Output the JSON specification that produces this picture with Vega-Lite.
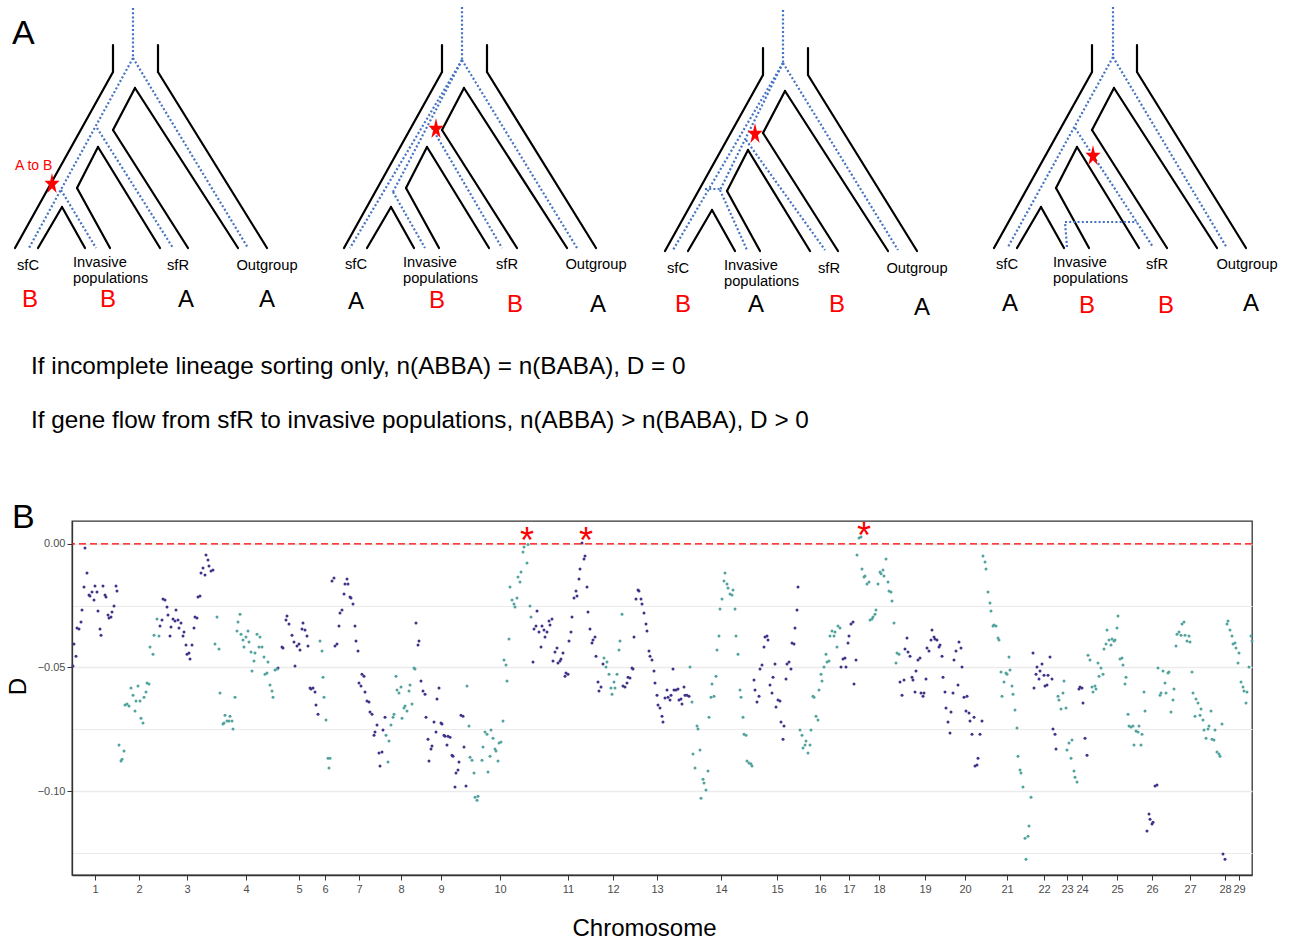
{
"$schema": "https://vega.github.io/schema/vega-lite/v6.json",
"padding": 0,
"background": "white",
"spacing": 0,
"bounds": "flush",
"config": {"font": "Liberation Sans", "view": {"stroke": null}, "text": {"font": "Liberation Sans"}},
"resolve": {"scale": {"x": "independent", "y": "independent", "color": "independent"}},
"vconcat": [
{
"width": 1219, "height": 521,
"layer": [
{"data": {"values": [{}]}, "mark": {"type": "rect", "fill": "white"},
 "encoding": {"x": {"datum": 0, "type": "quantitative", "scale": {"domain": [72, 1291], "nice": false, "zero": false}, "axis": null}, "x2": {"datum": 1291},
  "y": {"datum": 0, "type": "quantitative", "scale": {"domain": [0, 521], "nice": false, "zero": false, "reverse": true}, "axis": null}, "y2": {"datum": 521}}},
{"data": {"values": [
{"x1":113,"y1":45,"x2":113,"y2":72},{"x1":158,"y1":45,"x2":158,"y2":72},{"x1":113,"y1":72,"x2":15,"y2":248},{"x1":158,"y1":72,"x2":267,"y2":248},{"x1":135,"y1":88,"x2":113,"y2":130},{"x1":135,"y1":88,"x2":238,"y2":248},{"x1":113,"y1":130,"x2":188,"y2":248},{"x1":98,"y1":147,"x2":77,"y2":188},{"x1":98,"y1":147,"x2":160,"y2":248},{"x1":77,"y1":188,"x2":110,"y2":248},{"x1":62,"y1":207,"x2":38,"y2":248},{"x1":62,"y1":207,"x2":85,"y2":248},
{"x1":442,"y1":45,"x2":442,"y2":72},{"x1":487,"y1":45,"x2":487,"y2":72},{"x1":442,"y1":72,"x2":344,"y2":248},{"x1":487,"y1":72,"x2":596,"y2":248},{"x1":464,"y1":88,"x2":442,"y2":130},{"x1":464,"y1":88,"x2":567,"y2":248},{"x1":442,"y1":130,"x2":517,"y2":248},{"x1":427,"y1":147,"x2":406,"y2":188},{"x1":427,"y1":147,"x2":489,"y2":248},{"x1":406,"y1":188,"x2":439,"y2":248},{"x1":391,"y1":207,"x2":367,"y2":248},{"x1":391,"y1":207,"x2":414,"y2":248},
{"x1":763,"y1":48,"x2":763,"y2":75},{"x1":808,"y1":48,"x2":808,"y2":75},{"x1":763,"y1":75,"x2":665,"y2":251},{"x1":808,"y1":75,"x2":917,"y2":251},{"x1":785,"y1":91,"x2":763,"y2":133},{"x1":785,"y1":91,"x2":888,"y2":251},{"x1":763,"y1":133,"x2":838,"y2":251},{"x1":748,"y1":150,"x2":727,"y2":191},{"x1":748,"y1":150,"x2":810,"y2":251},{"x1":727,"y1":191,"x2":760,"y2":251},{"x1":712,"y1":210,"x2":688,"y2":251},{"x1":712,"y1":210,"x2":735,"y2":251},
{"x1":1092,"y1":45,"x2":1092,"y2":72},{"x1":1137,"y1":45,"x2":1137,"y2":72},{"x1":1092,"y1":72,"x2":994,"y2":248},{"x1":1137,"y1":72,"x2":1246,"y2":248},{"x1":1114,"y1":88,"x2":1092,"y2":130},{"x1":1114,"y1":88,"x2":1217,"y2":248},{"x1":1092,"y1":130,"x2":1167,"y2":248},{"x1":1077,"y1":147,"x2":1056,"y2":188},{"x1":1077,"y1":147,"x2":1139,"y2":248},{"x1":1056,"y1":188,"x2":1089,"y2":248},{"x1":1041,"y1":207,"x2":1017,"y2":248},{"x1":1041,"y1":207,"x2":1064,"y2":248}
]},
 "mark": {"type": "rule", "color": "black", "strokeWidth": 2.2, "strokeCap": "round"},
 "encoding": {"x": {"field": "x1", "type": "quantitative", "scale": {"domain": [72, 1291], "nice": false, "zero": false}, "axis": null}, "y": {"field": "y1", "type": "quantitative", "scale": {"domain": [0, 521], "nice": false, "zero": false, "reverse": true}, "axis": null}, "x2": {"field": "x2"}, "y2": {"field": "y2"}}},
{"data": {"values": [
{"x1":133,"y1":8,"x2":133,"y2":58},{"x1":133,"y1":58,"x2":29,"y2":248},{"x1":133,"y1":58,"x2":248,"y2":248},{"x1":97,"y1":128,"x2":173,"y2":248},{"x1":61,"y1":190,"x2":96,"y2":248},
{"x1":462,"y1":7,"x2":462,"y2":60},{"x1":462,"y1":60,"x2":350,"y2":248},{"x1":462,"y1":60,"x2":577,"y2":248},{"x1":462,"y1":60,"x2":393,"y2":192},{"x1":393,"y1":192,"x2":425,"y2":248},{"x1":432,"y1":128,"x2":502,"y2":248},
{"x1":783,"y1":10,"x2":783,"y2":63},{"x1":783,"y1":63,"x2":673,"y2":250},{"x1":783,"y1":63,"x2":898,"y2":250},{"x1":783,"y1":63,"x2":720,"y2":190},{"x1":720,"y1":190,"x2":747,"y2":250},{"x1":705,"y1":189,"x2":720,"y2":189},{"x1":746,"y1":140,"x2":825,"y2":250},
{"x1":1113,"y1":7,"x2":1113,"y2":57},{"x1":1113,"y1":57,"x2":1008,"y2":247},{"x1":1113,"y1":57,"x2":1227,"y2":248},{"x1":1075,"y1":128,"x2":1153,"y2":247},{"x1":1067,"y1":247,"x2":1065,"y2":222},{"x1":1065,"y1":222,"x2":1137,"y2":222}
]},
 "mark": {"type": "rule", "color": "#4472c4", "strokeWidth": 2.2, "strokeDash": [2, 2.2], "strokeCap": "butt"},
 "encoding": {"x": {"field": "x1", "type": "quantitative", "scale": {"domain": [72, 1291], "nice": false, "zero": false}, "axis": null}, "y": {"field": "y1", "type": "quantitative", "scale": {"domain": [0, 521], "nice": false, "zero": false, "reverse": true}, "axis": null}, "x2": {"field": "x2"}, "y2": {"field": "y2"}}},
{"data": {"values": [{"x":52,"y":183},{"x":436,"y":128},{"x":755,"y":133},{"x":1093,"y":155}]},
 "mark": {"type": "point", "shape": "M0,-1.27L0.2245,-0.30L0.9511,-0.30L0.3633,0.30L0.5878,1.26L0,0.67L-0.5878,1.26L-0.3633,0.30L-0.9511,-0.30L-0.2245,-0.30Z", "filled": true, "color": "#ff0000", "size": 250, "opacity": 1},
 "encoding": {"x": {"field": "x", "type": "quantitative", "scale": {"domain": [72, 1291], "nice": false, "zero": false}, "axis": null}, "y": {"field": "y", "type": "quantitative", "scale": {"domain": [0, 521], "nice": false, "zero": false, "reverse": true}, "axis": null}}},
{"data": {"values": [{"x":28,"y":270,"t":"sfC"},{"x":178,"y":270,"t":"sfR"},{"x":267,"y":270,"t":"Outgroup"},{"x":356,"y":269,"t":"sfC"},{"x":507,"y":269,"t":"sfR"},{"x":596,"y":269,"t":"Outgroup"},{"x":678,"y":273,"t":"sfC"},{"x":829,"y":273,"t":"sfR"},{"x":917,"y":273,"t":"Outgroup"},{"x":1007,"y":269,"t":"sfC"},{"x":1157,"y":269,"t":"sfR"},{"x":1247,"y":269,"t":"Outgroup"}]},
 "mark": {"type": "text", "align": "center", "baseline": "alphabetic", "fontSize": 14.7, "color": "black"},
 "encoding": {"x": {"field": "x", "type": "quantitative", "scale": {"domain": [72, 1291], "nice": false, "zero": false}, "axis": null}, "y": {"field": "y", "type": "quantitative", "scale": {"domain": [0, 521], "nice": false, "zero": false, "reverse": true}, "axis": null}, "text": {"field": "t"}}},
{"data": {"values": [{"x":73,"y":267,"t":"Invasive"},{"x":73,"y":283,"t":"populations"},{"x":403,"y":267,"t":"Invasive"},{"x":403,"y":283,"t":"populations"},{"x":724,"y":270,"t":"Invasive"},{"x":724,"y":286,"t":"populations"},{"x":1053,"y":267,"t":"Invasive"},{"x":1053,"y":283,"t":"populations"}]},
 "mark": {"type": "text", "align": "left", "baseline": "alphabetic", "fontSize": 14.7, "color": "black"},
 "encoding": {"x": {"field": "x", "type": "quantitative", "scale": {"domain": [72, 1291], "nice": false, "zero": false}, "axis": null}, "y": {"field": "y", "type": "quantitative", "scale": {"domain": [0, 521], "nice": false, "zero": false, "reverse": true}, "axis": null}, "text": {"field": "t"}}},
{"data": {"values": [{"x":186,"y":307,"t":"A"},{"x":267,"y":307,"t":"A"},{"x":356,"y":309,"t":"A"},{"x":598,"y":312,"t":"A"},{"x":756,"y":312,"t":"A"},{"x":922,"y":315,"t":"A"},{"x":1010,"y":311,"t":"A"},{"x":1251,"y":311,"t":"A"}]},
 "mark": {"type": "text", "align": "center", "baseline": "alphabetic", "fontSize": 24, "color": "black"},
 "encoding": {"x": {"field": "x", "type": "quantitative", "scale": {"domain": [72, 1291], "nice": false, "zero": false}, "axis": null}, "y": {"field": "y", "type": "quantitative", "scale": {"domain": [0, 521], "nice": false, "zero": false, "reverse": true}, "axis": null}, "text": {"field": "t"}}},
{"data": {"values": [{"x":30,"y":307,"t":"B"},{"x":108,"y":307,"t":"B"},{"x":437,"y":308,"t":"B"},{"x":515,"y":312,"t":"B"},{"x":683,"y":312,"t":"B"},{"x":837,"y":312,"t":"B"},{"x":1087,"y":313,"t":"B"},{"x":1166,"y":313,"t":"B"}]},
 "mark": {"type": "text", "align": "center", "baseline": "alphabetic", "fontSize": 24, "color": "#ff0000"},
 "encoding": {"x": {"field": "x", "type": "quantitative", "scale": {"domain": [72, 1291], "nice": false, "zero": false}, "axis": null}, "y": {"field": "y", "type": "quantitative", "scale": {"domain": [0, 521], "nice": false, "zero": false, "reverse": true}, "axis": null}, "text": {"field": "t"}}},
{"data": {"values": [{"x":15,"y":170,"t":"A to B"}]},
 "mark": {"type": "text", "align": "left", "baseline": "alphabetic", "fontSize": 14, "color": "#ff0000"},
 "encoding": {"x": {"field": "x", "type": "quantitative", "scale": {"domain": [72, 1291], "nice": false, "zero": false}, "axis": null}, "y": {"field": "y", "type": "quantitative", "scale": {"domain": [0, 521], "nice": false, "zero": false, "reverse": true}, "axis": null}, "text": {"field": "t"}}},
{"data": {"values": [{"x":31,"y":374,"t":"If incomplete lineage sorting only, n(ABBA) = n(BABA), D = 0"},{"x":31,"y":428,"t":"If gene flow from sfR to invasive populations, n(ABBA) > n(BABA), D > 0"}]},
 "mark": {"type": "text", "align": "left", "baseline": "alphabetic", "fontSize": 24.3, "color": "black"},
 "encoding": {"x": {"field": "x", "type": "quantitative", "scale": {"domain": [72, 1291], "nice": false, "zero": false}, "axis": null}, "y": {"field": "y", "type": "quantitative", "scale": {"domain": [0, 521], "nice": false, "zero": false, "reverse": true}, "axis": null}, "text": {"field": "t"}}},
{"data": {"values": [{"x":12,"y":44,"t":"A"},{"x":12,"y":528,"t":"B"}]},
 "mark": {"type": "text", "align": "left", "baseline": "alphabetic", "fontSize": 34, "color": "black"},
 "encoding": {"x": {"field": "x", "type": "quantitative", "scale": {"domain": [72, 1291], "nice": false, "zero": false}, "axis": null}, "y": {"field": "y", "type": "quantitative", "scale": {"domain": [0, 521], "nice": false, "zero": false, "reverse": true}, "axis": null}, "text": {"field": "t"}}}
]
},
{
"width": 1180, "height": 354,
"view": {"stroke": "#333333", "strokeWidth": 1.3},
"layer": [
{"data": {"values": [
{"pos":2,"D":-0.0405,"g":"p"},{"pos":4,"D":-0.0454,"g":"p"},{"pos":1,"D":-0.0494,"g":"p"},{"pos":5,"D":-0.0340,"g":"p"},{"pos":7,"D":-0.0344,"g":"p"},{"pos":9,"D":-0.0316,"g":"p"},{"pos":10,"D":-0.0267,"g":"p"},{"pos":12,"D":-0.0174,"g":"p"},{"pos":13,"D":-0.0016,"g":"p"},{"pos":15,"D":-0.0117,"g":"p"},{"pos":17,"D":-0.0207,"g":"p"},{"pos":18,"D":-0.0211,"g":"p"},{"pos":20,"D":-0.0194,"g":"p"},{"pos":22,"D":-0.0227,"g":"p"},{"pos":23,"D":-0.0170,"g":"p"},{"pos":25,"D":-0.0194,"g":"p"},{"pos":26,"D":-0.0271,"g":"p"},{"pos":28,"D":-0.0344,"g":"p"},{"pos":29,"D":-0.0369,"g":"p"},{"pos":31,"D":-0.0170,"g":"p"},{"pos":33,"D":-0.0207,"g":"p"},{"pos":34,"D":-0.0215,"g":"p"},{"pos":36,"D":-0.0288,"g":"p"},{"pos":37,"D":-0.0300,"g":"p"},{"pos":39,"D":-0.0296,"g":"p"},{"pos":40,"D":-0.0275,"g":"p"},{"pos":42,"D":-0.0251,"g":"p"},{"pos":44,"D":-0.0170,"g":"p"},{"pos":45,"D":-0.0190,"g":"p"},
{"pos":88,"D":-0.0332,"g":"p"},{"pos":90,"D":-0.0308,"g":"p"},{"pos":91,"D":-0.0223,"g":"p"},{"pos":93,"D":-0.0227,"g":"p"},{"pos":95,"D":-0.0255,"g":"p"},{"pos":96,"D":-0.0288,"g":"p"},{"pos":98,"D":-0.0373,"g":"p"},{"pos":99,"D":-0.0336,"g":"p"},{"pos":101,"D":-0.0304,"g":"p"},{"pos":103,"D":-0.0312,"g":"p"},{"pos":104,"D":-0.0267,"g":"p"},{"pos":106,"D":-0.0308,"g":"p"},{"pos":107,"D":-0.0340,"g":"p"},{"pos":109,"D":-0.0320,"g":"p"},{"pos":111,"D":-0.0373,"g":"p"},{"pos":112,"D":-0.0356,"g":"p"},{"pos":114,"D":-0.0409,"g":"p"},{"pos":115,"D":-0.0446,"g":"p"},{"pos":117,"D":-0.0441,"g":"p"},{"pos":118,"D":-0.0466,"g":"p"},{"pos":120,"D":-0.0409,"g":"p"},{"pos":122,"D":-0.0340,"g":"p"},{"pos":123,"D":-0.0296,"g":"p"},{"pos":125,"D":-0.0300,"g":"p"},{"pos":126,"D":-0.0215,"g":"p"},{"pos":128,"D":-0.0211,"g":"p"},{"pos":129,"D":-0.0117,"g":"p"},{"pos":131,"D":-0.0097,"g":"p"},{"pos":133,"D":-0.0126,"g":"p"},{"pos":134,"D":-0.0045,"g":"p"},{"pos":136,"D":-0.0065,"g":"p"},{"pos":137,"D":-0.0089,"g":"p"},{"pos":139,"D":-0.0109,"g":"p"},{"pos":141,"D":-0.0105,"g":"p"},
{"pos":206,"D":-0.0502,"g":"p"},{"pos":210,"D":-0.0417,"g":"p"},{"pos":211,"D":-0.0421,"g":"p"},{"pos":214,"D":-0.0308,"g":"p"},{"pos":215,"D":-0.0292,"g":"p"},{"pos":217,"D":-0.0324,"g":"p"},{"pos":220,"D":-0.0369,"g":"p"},{"pos":222,"D":-0.0397,"g":"p"},{"pos":223,"D":-0.0494,"g":"p"},{"pos":225,"D":-0.0413,"g":"p"},{"pos":227,"D":-0.0405,"g":"p"},{"pos":228,"D":-0.0429,"g":"p"},{"pos":230,"D":-0.0344,"g":"p"},{"pos":231,"D":-0.0320,"g":"p"},{"pos":233,"D":-0.0348,"g":"p"},{"pos":235,"D":-0.0373,"g":"p"},{"pos":236,"D":-0.0413,"g":"p"},{"pos":238,"D":-0.0583,"g":"p"},{"pos":239,"D":-0.0587,"g":"p"},{"pos":241,"D":-0.0583,"g":"p"},{"pos":243,"D":-0.0599,"g":"p"},{"pos":244,"D":-0.0652,"g":"p"},{"pos":246,"D":-0.0689,"g":"p"},
{"pos":260,"D":-0.0150,"g":"p"},{"pos":262,"D":-0.0138,"g":"p"},{"pos":263,"D":-0.0413,"g":"p"},{"pos":265,"D":-0.0405,"g":"p"},{"pos":267,"D":-0.0332,"g":"p"},{"pos":268,"D":-0.0279,"g":"p"},{"pos":270,"D":-0.0267,"g":"p"},{"pos":272,"D":-0.0203,"g":"p"},{"pos":273,"D":-0.0162,"g":"p"},{"pos":275,"D":-0.0142,"g":"p"},{"pos":276,"D":-0.0162,"g":"p"},{"pos":278,"D":-0.0215,"g":"p"},{"pos":279,"D":-0.0219,"g":"p"},{"pos":281,"D":-0.0243,"g":"p"},{"pos":283,"D":-0.0332,"g":"p"},{"pos":284,"D":-0.0393,"g":"p"},{"pos":286,"D":-0.0433,"g":"p"},{"pos":287,"D":-0.0563,"g":"p"},{"pos":289,"D":-0.0575,"g":"p"},{"pos":290,"D":-0.0527,"g":"p"},{"pos":292,"D":-0.0535,"g":"p"},{"pos":293,"D":-0.0599,"g":"p"},{"pos":295,"D":-0.0636,"g":"p"},{"pos":297,"D":-0.0640,"g":"p"},{"pos":298,"D":-0.0680,"g":"p"},{"pos":300,"D":-0.0689,"g":"p"},{"pos":302,"D":-0.0774,"g":"p"},{"pos":303,"D":-0.0761,"g":"p"},{"pos":305,"D":-0.0733,"g":"p"},{"pos":307,"D":-0.0846,"g":"p"},{"pos":308,"D":-0.0899,"g":"p"},{"pos":310,"D":-0.0842,"g":"p"},{"pos":311,"D":-0.0753,"g":"p"},{"pos":313,"D":-0.0701,"g":"p"},
{"pos":344,"D":-0.0320,"g":"p"},{"pos":346,"D":-0.0409,"g":"p"},{"pos":347,"D":-0.0393,"g":"p"},{"pos":349,"D":-0.0555,"g":"p"},{"pos":351,"D":-0.0595,"g":"p"},{"pos":353,"D":-0.0608,"g":"p"},{"pos":354,"D":-0.0701,"g":"p"},{"pos":356,"D":-0.0790,"g":"p"},{"pos":357,"D":-0.0879,"g":"p"},{"pos":359,"D":-0.0830,"g":"p"},{"pos":360,"D":-0.0818,"g":"p"},{"pos":362,"D":-0.0721,"g":"p"},{"pos":364,"D":-0.0761,"g":"p"},{"pos":365,"D":-0.0628,"g":"p"},{"pos":367,"D":-0.0583,"g":"p"},{"pos":369,"D":-0.0725,"g":"p"},{"pos":370,"D":-0.0729,"g":"p"},{"pos":372,"D":-0.0774,"g":"p"},{"pos":373,"D":-0.0778,"g":"p"},{"pos":375,"D":-0.0814,"g":"p"},{"pos":376,"D":-0.0778,"g":"p"},{"pos":378,"D":-0.0782,"g":"p"},{"pos":380,"D":-0.0855,"g":"p"},{"pos":381,"D":-0.0859,"g":"p"},{"pos":383,"D":-0.0984,"g":"p"},{"pos":384,"D":-0.0927,"g":"p"},{"pos":386,"D":-0.0915,"g":"p"},{"pos":387,"D":-0.0883,"g":"p"},{"pos":389,"D":-0.0693,"g":"p"},{"pos":391,"D":-0.0697,"g":"p"},{"pos":392,"D":-0.0822,"g":"p"},{"pos":394,"D":-0.0980,"g":"p"},
{"pos":461,"D":-0.0478,"g":"p"},{"pos":462,"D":-0.0344,"g":"p"},{"pos":464,"D":-0.0332,"g":"p"},{"pos":465,"D":-0.0271,"g":"p"},{"pos":467,"D":-0.0356,"g":"p"},{"pos":469,"D":-0.0417,"g":"p"},{"pos":470,"D":-0.0332,"g":"p"},{"pos":472,"D":-0.0348,"g":"p"},{"pos":473,"D":-0.0377,"g":"p"},{"pos":475,"D":-0.0356,"g":"p"},{"pos":477,"D":-0.0312,"g":"p"},{"pos":478,"D":-0.0328,"g":"p"},{"pos":480,"D":-0.0304,"g":"p"},{"pos":481,"D":-0.0474,"g":"p"},{"pos":483,"D":-0.0437,"g":"p"},{"pos":485,"D":-0.0421,"g":"p"},{"pos":486,"D":-0.0482,"g":"p"},{"pos":488,"D":-0.0474,"g":"p"},{"pos":489,"D":-0.0466,"g":"p"},{"pos":491,"D":-0.0441,"g":"p"},{"pos":493,"D":-0.0535,"g":"p"},{"pos":494,"D":-0.0522,"g":"p"},{"pos":496,"D":-0.0527,"g":"p"},{"pos":497,"D":-0.0393,"g":"p"},{"pos":499,"D":-0.0356,"g":"p"},{"pos":500,"D":-0.0296,"g":"p"},{"pos":502,"D":-0.0219,"g":"p"},{"pos":504,"D":-0.0190,"g":"p"},{"pos":505,"D":-0.0211,"g":"p"},{"pos":507,"D":-0.0142,"g":"p"},{"pos":508,"D":-0.0101,"g":"p"},{"pos":510,"D":0.0004,"g":"p"},{"pos":512,"D":-0.0061,"g":"p"},{"pos":513,"D":-0.0049,"g":"p"},{"pos":515,"D":-0.0174,"g":"p"},{"pos":516,"D":-0.0275,"g":"p"},{"pos":518,"D":-0.0344,"g":"p"},{"pos":520,"D":-0.0401,"g":"p"},{"pos":521,"D":-0.0389,"g":"p"},{"pos":523,"D":-0.0377,"g":"p"},{"pos":524,"D":-0.0454,"g":"p"},{"pos":526,"D":-0.0559,"g":"p"},{"pos":527,"D":-0.0595,"g":"p"},{"pos":529,"D":-0.0579,"g":"p"},{"pos":531,"D":-0.0486,"g":"p"},
{"pos":551,"D":-0.0575,"g":"p"},{"pos":553,"D":-0.0579,"g":"p"},{"pos":555,"D":-0.0563,"g":"p"},{"pos":556,"D":-0.0539,"g":"p"},{"pos":558,"D":-0.0543,"g":"p"},{"pos":560,"D":-0.0502,"g":"p"},{"pos":561,"D":-0.0506,"g":"p"},{"pos":562,"D":-0.0377,"g":"p"},{"pos":564,"D":-0.0223,"g":"p"},{"pos":566,"D":-0.0186,"g":"p"},{"pos":567,"D":-0.0190,"g":"p"},{"pos":569,"D":-0.0223,"g":"p"},{"pos":570,"D":-0.0243,"g":"p"},{"pos":572,"D":-0.0279,"g":"p"},{"pos":574,"D":-0.0324,"g":"p"},{"pos":575,"D":-0.0352,"g":"p"},{"pos":577,"D":-0.0433,"g":"p"},{"pos":578,"D":-0.0454,"g":"p"},{"pos":580,"D":-0.0470,"g":"p"},{"pos":582,"D":-0.0514,"g":"p"},{"pos":583,"D":-0.0563,"g":"p"},{"pos":585,"D":-0.0612,"g":"p"},{"pos":586,"D":-0.0652,"g":"p"},{"pos":588,"D":-0.0664,"g":"p"},{"pos":590,"D":-0.0697,"g":"p"},{"pos":591,"D":-0.0721,"g":"p"},{"pos":593,"D":-0.0624,"g":"p"},{"pos":595,"D":-0.0591,"g":"p"},{"pos":596,"D":-0.0620,"g":"p"},{"pos":598,"D":-0.0632,"g":"p"},{"pos":599,"D":-0.0612,"g":"p"},{"pos":601,"D":-0.0506,"g":"p"},{"pos":602,"D":-0.0591,"g":"p"},{"pos":604,"D":-0.0591,"g":"p"},{"pos":606,"D":-0.0587,"g":"p"},{"pos":607,"D":-0.0632,"g":"p"},{"pos":609,"D":-0.0628,"g":"p"},{"pos":610,"D":-0.0648,"g":"p"},{"pos":612,"D":-0.0579,"g":"p"},{"pos":613,"D":-0.0612,"g":"p"},{"pos":615,"D":-0.0612,"g":"p"},{"pos":617,"D":-0.0616,"g":"p"},
{"pos":682,"D":-0.0551,"g":"p"},{"pos":683,"D":-0.0591,"g":"p"},{"pos":685,"D":-0.0640,"g":"p"},{"pos":687,"D":-0.0616,"g":"p"},{"pos":688,"D":-0.0506,"g":"p"},{"pos":690,"D":-0.0490,"g":"p"},{"pos":692,"D":-0.0417,"g":"p"},{"pos":693,"D":-0.0377,"g":"p"},{"pos":695,"D":-0.0373,"g":"p"},{"pos":696,"D":-0.0389,"g":"p"},{"pos":698,"D":-0.0571,"g":"p"},{"pos":700,"D":-0.0603,"g":"p"},{"pos":701,"D":-0.0539,"g":"p"},{"pos":703,"D":-0.0486,"g":"p"},{"pos":704,"D":-0.0660,"g":"p"},{"pos":706,"D":-0.0632,"g":"p"},{"pos":708,"D":-0.0636,"g":"p"},{"pos":709,"D":-0.0721,"g":"p"},{"pos":711,"D":-0.0790,"g":"p"},{"pos":712,"D":-0.0737,"g":"p"},{"pos":714,"D":-0.0547,"g":"p"},{"pos":715,"D":-0.0486,"g":"p"},{"pos":717,"D":-0.0478,"g":"p"},{"pos":719,"D":-0.0506,"g":"p"},{"pos":720,"D":-0.0401,"g":"p"},{"pos":722,"D":-0.0405,"g":"p"},{"pos":723,"D":-0.0340,"g":"p"},{"pos":725,"D":-0.0267,"g":"p"},{"pos":726,"D":-0.0174,"g":"p"},
{"pos":769,"D":-0.0498,"g":"p"},{"pos":771,"D":-0.0466,"g":"p"},{"pos":773,"D":-0.0462,"g":"p"},{"pos":774,"D":-0.0498,"g":"p"},{"pos":776,"D":-0.0401,"g":"p"},{"pos":777,"D":-0.0373,"g":"p"},{"pos":779,"D":-0.0324,"g":"p"},{"pos":781,"D":-0.0316,"g":"p"},{"pos":782,"D":-0.0567,"g":"p"},{"pos":784,"D":-0.0470,"g":"p"},
{"pos":828,"D":-0.0559,"g":"p"},{"pos":830,"D":-0.0612,"g":"p"},{"pos":832,"D":-0.0551,"g":"p"},{"pos":833,"D":-0.0425,"g":"p"},{"pos":835,"D":-0.0381,"g":"p"},{"pos":836,"D":-0.0437,"g":"p"},{"pos":838,"D":-0.0454,"g":"p"},{"pos":840,"D":-0.0539,"g":"p"},{"pos":841,"D":-0.0551,"g":"p"},{"pos":843,"D":-0.0599,"g":"p"},{"pos":844,"D":-0.0514,"g":"p"},{"pos":846,"D":-0.0470,"g":"p"},{"pos":848,"D":-0.0462,"g":"p"},{"pos":849,"D":-0.0603,"g":"p"},{"pos":851,"D":-0.0616,"g":"p"},{"pos":852,"D":-0.0603,"g":"p"},{"pos":854,"D":-0.0547,"g":"p"},{"pos":855,"D":-0.0421,"g":"p"},{"pos":857,"D":-0.0433,"g":"p"},{"pos":859,"D":-0.0389,"g":"p"},{"pos":860,"D":-0.0348,"g":"p"},{"pos":862,"D":-0.0377,"g":"p"},{"pos":863,"D":-0.0385,"g":"p"},{"pos":865,"D":-0.0389,"g":"p"},{"pos":867,"D":-0.0417,"g":"p"},{"pos":868,"D":-0.0409,"g":"p"},{"pos":870,"D":-0.0454,"g":"p"},{"pos":871,"D":-0.0539,"g":"p"},{"pos":873,"D":-0.0599,"g":"p"},{"pos":874,"D":-0.0664,"g":"p"},{"pos":876,"D":-0.0721,"g":"p"},{"pos":878,"D":-0.0765,"g":"p"},{"pos":879,"D":-0.0680,"g":"p"},{"pos":881,"D":-0.0603,"g":"p"},{"pos":882,"D":-0.0470,"g":"p"},{"pos":884,"D":-0.0433,"g":"p"},{"pos":886,"D":-0.0571,"g":"p"},{"pos":887,"D":-0.0397,"g":"p"},{"pos":889,"D":-0.0421,"g":"p"},{"pos":890,"D":-0.0498,"g":"p"},{"pos":892,"D":-0.0620,"g":"p"},{"pos":894,"D":-0.0676,"g":"p"},{"pos":895,"D":-0.0616,"g":"p"},{"pos":897,"D":-0.0684,"g":"p"},{"pos":898,"D":-0.0717,"g":"p"},{"pos":900,"D":-0.0770,"g":"p"},{"pos":902,"D":-0.0701,"g":"p"},{"pos":903,"D":-0.0899,"g":"p"},{"pos":905,"D":-0.0895,"g":"p"},{"pos":906,"D":-0.0867,"g":"p"},{"pos":908,"D":-0.0770,"g":"p"},{"pos":910,"D":-0.0717,"g":"p"},
{"pos":961,"D":-0.0441,"g":"p"},{"pos":962,"D":-0.0583,"g":"p"},{"pos":964,"D":-0.0527,"g":"p"},{"pos":965,"D":-0.0498,"g":"p"},{"pos":967,"D":-0.0547,"g":"p"},{"pos":968,"D":-0.0514,"g":"p"},{"pos":970,"D":-0.0486,"g":"p"},{"pos":972,"D":-0.0531,"g":"p"},{"pos":973,"D":-0.0575,"g":"p"},{"pos":975,"D":-0.0571,"g":"p"},{"pos":976,"D":-0.0531,"g":"p"},{"pos":978,"D":-0.0458,"g":"p"},{"pos":980,"D":-0.0547,"g":"p"},{"pos":981,"D":-0.0749,"g":"p"},{"pos":983,"D":-0.0770,"g":"p"},{"pos":984,"D":-0.0830,"g":"p"},
{"pos":1007,"D":-0.0587,"g":"p"},{"pos":1008,"D":-0.0579,"g":"p"},{"pos":1010,"D":-0.0583,"g":"p"},{"pos":1011,"D":-0.0644,"g":"p"},{"pos":1013,"D":-0.0786,"g":"p"},{"pos":1015,"D":-0.0855,"g":"p"},
{"pos":1075,"D":-0.1162,"g":"p"},{"pos":1077,"D":-0.1093,"g":"p"},{"pos":1078,"D":-0.1114,"g":"p"},{"pos":1080,"D":-0.1134,"g":"p"},{"pos":1081,"D":-0.1126,"g":"p"},{"pos":1083,"D":-0.0980,"g":"p"},{"pos":1085,"D":-0.0976,"g":"p"},
{"pos":1151,"D":-0.1255,"g":"p"},{"pos":1153,"D":-0.1276,"g":"p"},
{"pos":47,"D":-0.0814,"g":"t"},{"pos":49,"D":-0.0879,"g":"t"},{"pos":50,"D":-0.0871,"g":"t"},{"pos":52,"D":-0.0838,"g":"t"},{"pos":53,"D":-0.0652,"g":"t"},{"pos":55,"D":-0.0648,"g":"t"},{"pos":57,"D":-0.0656,"g":"t"},{"pos":59,"D":-0.0583,"g":"t"},{"pos":61,"D":-0.0612,"g":"t"},{"pos":63,"D":-0.0676,"g":"t"},{"pos":64,"D":-0.0636,"g":"t"},{"pos":66,"D":-0.0575,"g":"t"},{"pos":68,"D":-0.0636,"g":"t"},{"pos":69,"D":-0.0705,"g":"t"},{"pos":71,"D":-0.0725,"g":"t"},{"pos":72,"D":-0.0620,"g":"t"},{"pos":74,"D":-0.0599,"g":"t"},{"pos":75,"D":-0.0563,"g":"t"},{"pos":77,"D":-0.0567,"g":"t"},{"pos":78,"D":-0.0417,"g":"t"},{"pos":81,"D":-0.0446,"g":"t"},{"pos":82,"D":-0.0369,"g":"t"},{"pos":85,"D":-0.0304,"g":"t"},{"pos":87,"D":-0.0373,"g":"t"},
{"pos":143,"D":-0.0405,"g":"t"},{"pos":145,"D":-0.0296,"g":"t"},{"pos":147,"D":-0.0425,"g":"t"},{"pos":148,"D":-0.0603,"g":"t"},{"pos":151,"D":-0.0729,"g":"t"},{"pos":152,"D":-0.0725,"g":"t"},{"pos":153,"D":-0.0693,"g":"t"},{"pos":155,"D":-0.0717,"g":"t"},{"pos":157,"D":-0.0717,"g":"t"},{"pos":158,"D":-0.0697,"g":"t"},{"pos":160,"D":-0.0717,"g":"t"},{"pos":161,"D":-0.0749,"g":"t"},{"pos":163,"D":-0.0620,"g":"t"},{"pos":165,"D":-0.0352,"g":"t"},{"pos":166,"D":-0.0316,"g":"t"},{"pos":168,"D":-0.0284,"g":"t"},{"pos":169,"D":-0.0365,"g":"t"},{"pos":171,"D":-0.0389,"g":"t"},{"pos":172,"D":-0.0417,"g":"t"},{"pos":174,"D":-0.0377,"g":"t"},{"pos":176,"D":-0.0352,"g":"t"},{"pos":177,"D":-0.0397,"g":"t"},{"pos":179,"D":-0.0437,"g":"t"},{"pos":180,"D":-0.0514,"g":"t"},{"pos":182,"D":-0.0474,"g":"t"},{"pos":183,"D":-0.0441,"g":"t"},{"pos":185,"D":-0.0365,"g":"t"},{"pos":187,"D":-0.0417,"g":"t"},{"pos":188,"D":-0.0377,"g":"t"},{"pos":190,"D":-0.0417,"g":"t"},{"pos":192,"D":-0.0458,"g":"t"},{"pos":193,"D":-0.0527,"g":"t"},{"pos":195,"D":-0.0522,"g":"t"},{"pos":196,"D":-0.0478,"g":"t"},{"pos":198,"D":-0.0571,"g":"t"},{"pos":200,"D":-0.0595,"g":"t"},{"pos":201,"D":-0.0620,"g":"t"},{"pos":203,"D":-0.0510,"g":"t"},{"pos":205,"D":-0.0506,"g":"t"},
{"pos":248,"D":-0.0393,"g":"t"},{"pos":250,"D":-0.0433,"g":"t"},{"pos":251,"D":-0.0539,"g":"t"},{"pos":252,"D":-0.0620,"g":"t"},{"pos":254,"D":-0.0713,"g":"t"},{"pos":256,"D":-0.0867,"g":"t"},{"pos":258,"D":-0.0867,"g":"t"},{"pos":257,"D":-0.0907,"g":"t"},
{"pos":314,"D":-0.0774,"g":"t"},{"pos":316,"D":-0.0883,"g":"t"},{"pos":317,"D":-0.0798,"g":"t"},{"pos":319,"D":-0.0733,"g":"t"},{"pos":321,"D":-0.0701,"g":"t"},{"pos":322,"D":-0.0689,"g":"t"},{"pos":324,"D":-0.0535,"g":"t"},{"pos":325,"D":-0.0591,"g":"t"},{"pos":327,"D":-0.0603,"g":"t"},{"pos":329,"D":-0.0579,"g":"t"},{"pos":330,"D":-0.0705,"g":"t"},{"pos":332,"D":-0.0664,"g":"t"},{"pos":333,"D":-0.0656,"g":"t"},{"pos":335,"D":-0.0676,"g":"t"},{"pos":337,"D":-0.0595,"g":"t"},{"pos":338,"D":-0.0571,"g":"t"},{"pos":340,"D":-0.0648,"g":"t"},{"pos":342,"D":-0.0502,"g":"t"},{"pos":343,"D":-0.0506,"g":"t"},
{"pos":395,"D":-0.0575,"g":"t"},{"pos":397,"D":-0.0737,"g":"t"},{"pos":398,"D":-0.0863,"g":"t"},{"pos":400,"D":-0.0875,"g":"t"},{"pos":402,"D":-0.0927,"g":"t"},{"pos":403,"D":-0.1025,"g":"t"},{"pos":405,"D":-0.1037,"g":"t"},{"pos":406,"D":-0.1021,"g":"t"},{"pos":410,"D":-0.0875,"g":"t"},{"pos":411,"D":-0.0822,"g":"t"},{"pos":413,"D":-0.0761,"g":"t"},{"pos":415,"D":-0.0770,"g":"t"},{"pos":416,"D":-0.0923,"g":"t"},{"pos":418,"D":-0.0859,"g":"t"},{"pos":419,"D":-0.0753,"g":"t"},{"pos":421,"D":-0.0786,"g":"t"},{"pos":423,"D":-0.0830,"g":"t"},{"pos":424,"D":-0.0838,"g":"t"},{"pos":426,"D":-0.0879,"g":"t"},{"pos":427,"D":-0.0806,"g":"t"},{"pos":429,"D":-0.0802,"g":"t"},{"pos":431,"D":-0.0717,"g":"t"},{"pos":432,"D":-0.0470,"g":"t"},{"pos":434,"D":-0.0490,"g":"t"},{"pos":435,"D":-0.0555,"g":"t"},{"pos":437,"D":-0.0385,"g":"t"},{"pos":438,"D":-0.0174,"g":"t"},{"pos":440,"D":-0.0227,"g":"t"},{"pos":442,"D":-0.0243,"g":"t"},{"pos":443,"D":-0.0255,"g":"t"},{"pos":445,"D":-0.0219,"g":"t"},{"pos":446,"D":-0.0134,"g":"t"},{"pos":448,"D":-0.0154,"g":"t"},{"pos":449,"D":-0.0113,"g":"t"},{"pos":451,"D":-0.0032,"g":"t"},{"pos":452,"D":-0.0012,"g":"t"},{"pos":455,"D":-0.0077,"g":"t"},{"pos":456,"D":-0.0002,"g":"t"},{"pos":458,"D":-0.0251,"g":"t"},{"pos":459,"D":-0.0296,"g":"t"},
{"pos":532,"D":-0.0462,"g":"t"},{"pos":534,"D":-0.0498,"g":"t"},{"pos":535,"D":-0.0478,"g":"t"},{"pos":537,"D":-0.0527,"g":"t"},{"pos":539,"D":-0.0583,"g":"t"},{"pos":540,"D":-0.0608,"g":"t"},{"pos":542,"D":-0.0559,"g":"t"},{"pos":543,"D":-0.0583,"g":"t"},{"pos":545,"D":-0.0527,"g":"t"},{"pos":547,"D":-0.0429,"g":"t"},{"pos":548,"D":-0.0393,"g":"t"},{"pos":550,"D":-0.0284,"g":"t"},
{"pos":618,"D":-0.0498,"g":"t"},{"pos":620,"D":-0.0640,"g":"t"},{"pos":621,"D":-0.0850,"g":"t"},{"pos":623,"D":-0.0907,"g":"t"},{"pos":625,"D":-0.0737,"g":"t"},{"pos":626,"D":-0.0749,"g":"t"},{"pos":628,"D":-0.0834,"g":"t"},{"pos":629,"D":-0.1029,"g":"t"},{"pos":631,"D":-0.0952,"g":"t"},{"pos":632,"D":-0.0968,"g":"t"},{"pos":634,"D":-0.0996,"g":"t"},{"pos":636,"D":-0.0919,"g":"t"},{"pos":637,"D":-0.0701,"g":"t"},{"pos":639,"D":-0.0620,"g":"t"},{"pos":640,"D":-0.0567,"g":"t"},{"pos":642,"D":-0.0616,"g":"t"},{"pos":644,"D":-0.0535,"g":"t"},{"pos":645,"D":-0.0429,"g":"t"},{"pos":647,"D":-0.0373,"g":"t"},{"pos":648,"D":-0.0263,"g":"t"},{"pos":650,"D":-0.0223,"g":"t"},{"pos":652,"D":-0.0150,"g":"t"},{"pos":653,"D":-0.0117,"g":"t"},{"pos":655,"D":-0.0162,"g":"t"},{"pos":656,"D":-0.0178,"g":"t"},{"pos":658,"D":-0.0203,"g":"t"},{"pos":660,"D":-0.0207,"g":"t"},{"pos":661,"D":-0.0186,"g":"t"},{"pos":663,"D":-0.0263,"g":"t"},{"pos":664,"D":-0.0373,"g":"t"},{"pos":666,"D":-0.0446,"g":"t"},{"pos":668,"D":-0.0591,"g":"t"},{"pos":669,"D":-0.0620,"g":"t"},{"pos":671,"D":-0.0701,"g":"t"},{"pos":672,"D":-0.0770,"g":"t"},{"pos":674,"D":-0.0774,"g":"t"},{"pos":675,"D":-0.0879,"g":"t"},{"pos":677,"D":-0.0887,"g":"t"},{"pos":679,"D":-0.0891,"g":"t"},{"pos":680,"D":-0.0899,"g":"t"},
{"pos":728,"D":-0.0753,"g":"t"},{"pos":730,"D":-0.0774,"g":"t"},{"pos":731,"D":-0.0826,"g":"t"},{"pos":733,"D":-0.0814,"g":"t"},{"pos":734,"D":-0.0798,"g":"t"},{"pos":736,"D":-0.0846,"g":"t"},{"pos":738,"D":-0.0814,"g":"t"},{"pos":739,"D":-0.0753,"g":"t"},{"pos":741,"D":-0.0616,"g":"t"},{"pos":742,"D":-0.0620,"g":"t"},{"pos":744,"D":-0.0697,"g":"t"},{"pos":746,"D":-0.0713,"g":"t"},{"pos":747,"D":-0.0591,"g":"t"},{"pos":749,"D":-0.0527,"g":"t"},{"pos":750,"D":-0.0555,"g":"t"},{"pos":752,"D":-0.0498,"g":"t"},{"pos":754,"D":-0.0446,"g":"t"},{"pos":755,"D":-0.0478,"g":"t"},{"pos":757,"D":-0.0474,"g":"t"},{"pos":758,"D":-0.0373,"g":"t"},{"pos":760,"D":-0.0352,"g":"t"},{"pos":762,"D":-0.0373,"g":"t"},{"pos":763,"D":-0.0356,"g":"t"},{"pos":765,"D":-0.0417,"g":"t"},{"pos":766,"D":-0.0332,"g":"t"},{"pos":768,"D":-0.0340,"g":"t"},
{"pos":785,"D":-0.0045,"g":"t"},{"pos":787,"D":0.0024,"g":"t"},{"pos":789,"D":0.0028,"g":"t"},{"pos":790,"D":-0.0101,"g":"t"},{"pos":792,"D":-0.0134,"g":"t"},{"pos":793,"D":-0.0130,"g":"t"},{"pos":795,"D":-0.0162,"g":"t"},{"pos":797,"D":-0.0154,"g":"t"},{"pos":798,"D":-0.0308,"g":"t"},{"pos":800,"D":-0.0304,"g":"t"},{"pos":801,"D":-0.0296,"g":"t"},{"pos":803,"D":-0.0284,"g":"t"},{"pos":804,"D":-0.0267,"g":"t"},{"pos":806,"D":-0.0162,"g":"t"},{"pos":808,"D":-0.0113,"g":"t"},{"pos":809,"D":-0.0121,"g":"t"},{"pos":811,"D":-0.0105,"g":"t"},{"pos":812,"D":-0.0130,"g":"t"},{"pos":814,"D":-0.0061,"g":"t"},{"pos":816,"D":-0.0154,"g":"t"},{"pos":817,"D":-0.0190,"g":"t"},{"pos":819,"D":-0.0194,"g":"t"},{"pos":820,"D":-0.0231,"g":"t"},{"pos":822,"D":-0.0320,"g":"t"},{"pos":824,"D":-0.0482,"g":"t"},{"pos":825,"D":-0.0441,"g":"t"},{"pos":827,"D":-0.0446,"g":"t"},
{"pos":911,"D":-0.0049,"g":"t"},{"pos":913,"D":-0.0073,"g":"t"},{"pos":914,"D":-0.0101,"g":"t"},{"pos":916,"D":-0.0194,"g":"t"},{"pos":918,"D":-0.0239,"g":"t"},{"pos":919,"D":-0.0271,"g":"t"},{"pos":921,"D":-0.0332,"g":"t"},{"pos":922,"D":-0.0328,"g":"t"},{"pos":924,"D":-0.0332,"g":"t"},{"pos":926,"D":-0.0381,"g":"t"},{"pos":927,"D":-0.0389,"g":"t"},{"pos":929,"D":-0.0518,"g":"t"},{"pos":930,"D":-0.0616,"g":"t"},{"pos":932,"D":-0.0559,"g":"t"},{"pos":934,"D":-0.0522,"g":"t"},{"pos":935,"D":-0.0527,"g":"t"},{"pos":937,"D":-0.0458,"g":"t"},{"pos":938,"D":-0.0510,"g":"t"},{"pos":940,"D":-0.0575,"g":"t"},{"pos":941,"D":-0.0608,"g":"t"},{"pos":943,"D":-0.0672,"g":"t"},{"pos":945,"D":-0.0745,"g":"t"},{"pos":946,"D":-0.0859,"g":"t"},{"pos":948,"D":-0.0915,"g":"t"},{"pos":949,"D":-0.0927,"g":"t"},{"pos":951,"D":-0.0984,"g":"t"},{"pos":953,"D":-0.1191,"g":"t"},{"pos":954,"D":-0.1276,"g":"t"},{"pos":956,"D":-0.1183,"g":"t"},{"pos":957,"D":-0.1142,"g":"t"},{"pos":959,"D":-0.1025,"g":"t"},
{"pos":986,"D":-0.0616,"g":"t"},{"pos":987,"D":-0.0632,"g":"t"},{"pos":989,"D":-0.0668,"g":"t"},{"pos":991,"D":-0.0603,"g":"t"},{"pos":992,"D":-0.0555,"g":"t"},{"pos":994,"D":-0.0664,"g":"t"},{"pos":995,"D":-0.0834,"g":"t"},{"pos":997,"D":-0.0806,"g":"t"},{"pos":999,"D":-0.0867,"g":"t"},{"pos":1000,"D":-0.0794,"g":"t"},{"pos":1002,"D":-0.0919,"g":"t"},{"pos":1003,"D":-0.0944,"g":"t"},{"pos":1005,"D":-0.0964,"g":"t"},
{"pos":1016,"D":-0.0450,"g":"t"},{"pos":1018,"D":-0.0470,"g":"t"},{"pos":1020,"D":-0.0579,"g":"t"},{"pos":1021,"D":-0.0599,"g":"t"},{"pos":1023,"D":-0.0575,"g":"t"},{"pos":1024,"D":-0.0587,"g":"t"},{"pos":1026,"D":-0.0482,"g":"t"},{"pos":1027,"D":-0.0535,"g":"t"},{"pos":1029,"D":-0.0502,"g":"t"},{"pos":1031,"D":-0.0527,"g":"t"},{"pos":1032,"D":-0.0425,"g":"t"},{"pos":1034,"D":-0.0405,"g":"t"},{"pos":1035,"D":-0.0348,"g":"t"},{"pos":1037,"D":-0.0389,"g":"t"},{"pos":1039,"D":-0.0409,"g":"t"},{"pos":1040,"D":-0.0385,"g":"t"},{"pos":1042,"D":-0.0393,"g":"t"},{"pos":1043,"D":-0.0389,"g":"t"},{"pos":1045,"D":-0.0340,"g":"t"},{"pos":1046,"D":-0.0292,"g":"t"},{"pos":1048,"D":-0.0466,"g":"t"},{"pos":1050,"D":-0.0462,"g":"t"},{"pos":1051,"D":-0.0490,"g":"t"},{"pos":1053,"D":-0.0567,"g":"t"},{"pos":1054,"D":-0.0539,"g":"t"},{"pos":1056,"D":-0.0689,"g":"t"},{"pos":1057,"D":-0.0737,"g":"t"},{"pos":1059,"D":-0.0741,"g":"t"},{"pos":1061,"D":-0.0737,"g":"t"},{"pos":1062,"D":-0.0814,"g":"t"},{"pos":1064,"D":-0.0757,"g":"t"},{"pos":1066,"D":-0.0761,"g":"t"},{"pos":1067,"D":-0.0737,"g":"t"},{"pos":1069,"D":-0.0814,"g":"t"},{"pos":1070,"D":-0.0770,"g":"t"},{"pos":1072,"D":-0.0599,"g":"t"},{"pos":1073,"D":-0.0676,"g":"t"},
{"pos":1086,"D":-0.0502,"g":"t"},{"pos":1088,"D":-0.0612,"g":"t"},{"pos":1089,"D":-0.0603,"g":"t"},{"pos":1091,"D":-0.0514,"g":"t"},{"pos":1093,"D":-0.0563,"g":"t"},{"pos":1094,"D":-0.0603,"g":"t"},{"pos":1096,"D":-0.0522,"g":"t"},{"pos":1097,"D":-0.0518,"g":"t"},{"pos":1099,"D":-0.0680,"g":"t"},{"pos":1101,"D":-0.0632,"g":"t"},{"pos":1102,"D":-0.0587,"g":"t"},{"pos":1104,"D":-0.0413,"g":"t"},{"pos":1105,"D":-0.0365,"g":"t"},{"pos":1107,"D":-0.0356,"g":"t"},{"pos":1109,"D":-0.0369,"g":"t"},{"pos":1110,"D":-0.0324,"g":"t"},{"pos":1112,"D":-0.0316,"g":"t"},{"pos":1113,"D":-0.0369,"g":"t"},{"pos":1115,"D":-0.0393,"g":"t"},{"pos":1117,"D":-0.0373,"g":"t"},{"pos":1118,"D":-0.0397,"g":"t"},{"pos":1120,"D":-0.0518,"g":"t"},{"pos":1121,"D":-0.0603,"g":"t"},{"pos":1123,"D":-0.0697,"g":"t"},{"pos":1124,"D":-0.0628,"g":"t"},{"pos":1126,"D":-0.0644,"g":"t"},{"pos":1128,"D":-0.0693,"g":"t"},{"pos":1129,"D":-0.0668,"g":"t"},{"pos":1131,"D":-0.0713,"g":"t"},{"pos":1132,"D":-0.0753,"g":"t"},{"pos":1134,"D":-0.0786,"g":"t"},{"pos":1136,"D":-0.0749,"g":"t"},{"pos":1137,"D":-0.0737,"g":"t"},{"pos":1139,"D":-0.0676,"g":"t"},{"pos":1140,"D":-0.0790,"g":"t"},{"pos":1142,"D":-0.0794,"g":"t"},{"pos":1143,"D":-0.0753,"g":"t"},{"pos":1145,"D":-0.0842,"g":"t"},{"pos":1147,"D":-0.0850,"g":"t"},{"pos":1148,"D":-0.0859,"g":"t"},{"pos":1150,"D":-0.0729,"g":"t"},
{"pos":1155,"D":-0.0324,"g":"t"},{"pos":1156,"D":-0.0312,"g":"t"},{"pos":1158,"D":-0.0348,"g":"t"},{"pos":1160,"D":-0.0373,"g":"t"},{"pos":1161,"D":-0.0405,"g":"t"},{"pos":1163,"D":-0.0401,"g":"t"},{"pos":1164,"D":-0.0421,"g":"t"},{"pos":1166,"D":-0.0482,"g":"t"},{"pos":1167,"D":-0.0441,"g":"t"},{"pos":1169,"D":-0.0559,"g":"t"},{"pos":1171,"D":-0.0579,"g":"t"},{"pos":1172,"D":-0.0595,"g":"t"},{"pos":1175,"D":-0.0599,"g":"t"},{"pos":1174,"D":-0.0644,"g":"t"},{"pos":1177,"D":-0.0498,"g":"t"},{"pos":1179,"D":-0.0373,"g":"t"},{"pos":1180,"D":-0.0393,"g":"t"}
]},
 "mark": {"type": "circle", "size": 9, "opacity": 1},
 "encoding": {
  "x": {"field": "pos", "type": "quantitative", "scale": {"domain": [0, 1180], "nice": false, "zero": false},
   "axis": {"title": "Chromosome", "values": [23,67,115,174,227,253,287,329,369,428,496,541,585,649,705,748,777,807,853,893,935,972,995,1010,1045,1080,1118,1153,1167],
    "labelExpr": "'' + (indexof([23,67,115,174,227,253,287,329,369,428,496,541,585,649,705,748,777,807,853,893,935,972,995,1010,1045,1080,1118,1153,1167], datum.value) + 1)",
    "grid": false, "labelOverlap": false, "labelFlush": false, "tickSize": 5, "labelPadding": 3, "labelFontSize": 11, "labelColor": "#4d4d4d", "tickColor": "#333333", "domainColor": "#333333", "domainWidth": 1.3,
    "titleFontSize": 24, "titleFontWeight": "normal", "titleColor": "black", "titleX": 572, "titleY": 60, "titleAlign": "center", "titleBaseline": "alphabetic"}},
  "y": {"field": "D", "type": "quantitative", "scale": {"domain": [-0.134, 0.0093], "nice": false, "zero": false},
   "axis": {"title": "D", "values": [-0.125,-0.1,-0.075,-0.05,-0.025,0], "format": ".2f",
    "labelExpr": "indexof([-0.125,-0.075,-0.025], datum.value) >= 0 ? '' : datum.label",
    "grid": true, "gridColor": "#ebebeb",
    "gridWidth": {"condition": {"test": "indexof([-0.125,-0.075,-0.025], datum.value) >= 0", "value": 1}, "value": 1.6},
    "tickOpacity": {"condition": {"test": "indexof([-0.125,-0.075,-0.025], datum.value) >= 0", "value": 0}, "value": 1},
    "tickSize": 5, "labelPadding": 2, "labelFontSize": 11, "labelColor": "#4d4d4d", "tickColor": "#333333", "domainColor": "#333333", "domainWidth": 1.3,
    "titleFontSize": 24, "titleFontWeight": "normal", "titleColor": "black", "titleAngle": -90, "titleX": -47, "titleY": 165, "titleAlign": "center", "titleBaseline": "alphabetic"}},
  "color": {"field": "g", "type": "nominal", "scale": {"domain": ["p", "t"], "range": ["#3f3389", "#52a39f"]}, "legend": null}
 }},
{"data": {"values": [{"D": 0}]},
 "mark": {"type": "rule", "color": "#ff0000", "strokeDash": [7, 4], "strokeWidth": 1.3},
 "encoding": {"y": {"field": "D", "type": "quantitative"}}},
{"data": {"values": [{"pos": 455, "D": -0.0036}, {"pos": 514, "D": -0.0036}, {"pos": 792, "D": -0.0018}]},
 "mark": {"type": "text", "text": "*", "fontSize": 36, "color": "#ff0000", "baseline": "alphabetic", "align": "center"},
 "encoding": {"x": {"field": "pos", "type": "quantitative"}, "y": {"field": "D", "type": "quantitative"}}}
]
}
]
}
